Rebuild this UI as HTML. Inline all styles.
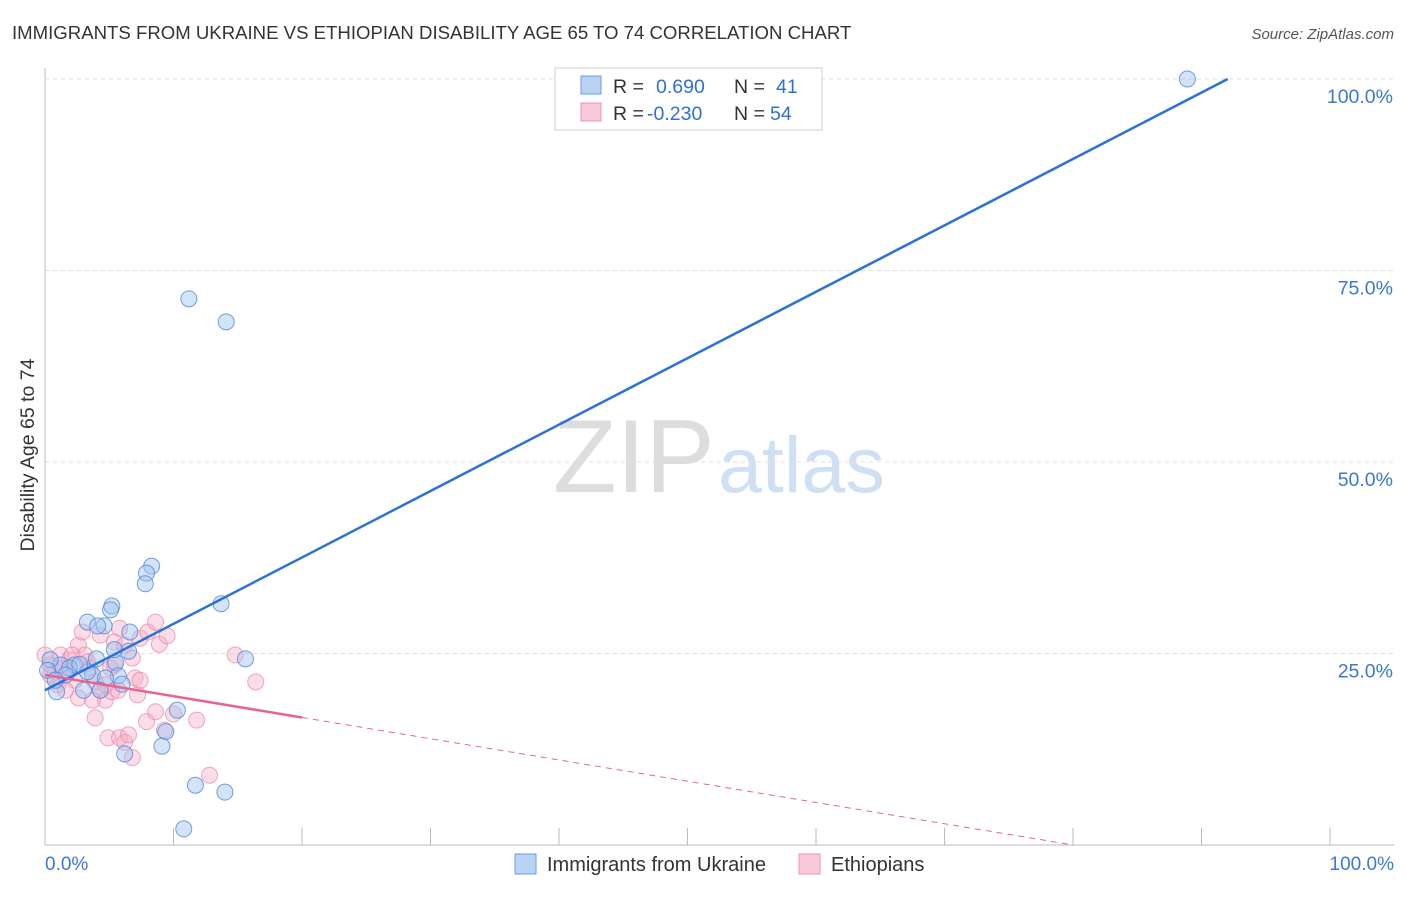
<!DOCTYPE html>
<html><head><meta charset="utf-8"><style>
body{margin:0;background:#fff;font-family:"Liberation Sans",sans-serif;}
svg text{font-family:"Liberation Sans",sans-serif;}
</style></head><body>
<svg id="chart" width="1406" height="892">
<text x="12" y="39" font-size="18.6" fill="#333">IMMIGRANTS FROM UKRAINE VS ETHIOPIAN DISABILITY AGE 65 TO 74 CORRELATION CHART</text>
<text x="1394" y="39" font-size="15" fill="#555" font-style="italic" text-anchor="end">Source: ZipAtlas.com</text>
<text transform="translate(34,455) rotate(-90)" font-size="19.5" fill="#333" text-anchor="middle">Disability Age 65 to 74</text>
<text x="553" y="492" font-size="104" fill="#ddd" font-family="Liberation Serif">ZIP</text>
<text x="718" y="492" font-size="79" fill="#cfe0f4">atlas</text>
<g id="grid"></g>
<g id="marks"></g>
<g>
<rect x="555" y="68" width="267" height="62" fill="#fff" stroke="#ccc"/>
<rect x="581" y="76" width="20" height="18" fill="#b9d3f4" stroke="#6b9be0"/>
<rect x="581" y="103" width="20" height="18" fill="#f9c9d8" stroke="#ee93b0"/>
<text x="613" y="93" font-size="19.5" fill="#333">R = </text><text x="656" y="93" font-size="19.5" fill="#2f6fd6">0.690</text>
<text x="734" y="93" font-size="19.5" fill="#333">N = </text><text x="776" y="93" font-size="19.5" fill="#2f6fd6">41</text>
<text x="613" y="120" font-size="19.5" fill="#333">R = </text><text x="647" y="120" font-size="19.5" fill="#2f6fd6">-0.230</text>
<text x="734" y="120" font-size="19.5" fill="#333">N = </text><text x="770" y="120" font-size="19.5" fill="#2f6fd6">54</text>
</g>
<g>
<rect x="515" y="854" width="21" height="20" fill="#b9d3f4" stroke="#6b9be0"/>
<text x="547" y="871" font-size="20" fill="#333">Immigrants from Ukraine</text>
<rect x="799" y="854" width="21" height="20" fill="#f9c9d8" stroke="#ee93b0"/>
<text x="831" y="871" font-size="20" fill="#333">Ethiopians</text>
</g>
</svg>
<script>
const blueX=[88.9,11.2,14.1,8.3,7.9,7.8,5.2,5.1,3.3,4.6,4.1,6.6,13.7,15.6,6.5,5.5,4.0,1.2,2.3,0.4,0.2,3.7,5.7,4.7,6.0,3.0,0.9,10.3,9.4,9.1,6.2,11.7,14.0,10.8,1.9,3.3,1.6,4.3,0.8,2.7,5.4];
const blueY=[100,71.3,68.3,36.4,35.5,34.1,31.2,30.7,29.1,28.6,28.6,27.8,31.5,24.3,25.3,23.8,24.3,23.5,23.5,24.2,22.8,22.2,22.1,21.8,21.0,20.2,20.0,17.6,14.8,12.9,11.9,7.8,6.9,2.1,23.1,22.6,22.2,20.2,21.5,23.6,25.5];
const pinkX=[0,0.4,0.8,1.3,1.9,2.6,3.1,3.5,3.9,4.3,4.7,5.1,5.4,5.8,6.2,6.8,7.4,8.0,8.6,8.9,9.5,7.0,7.2,5.2,3.9,2.6,1.0,4.9,5.8,6.2,6.8,7.9,9.3,10.0,11.8,12.8,14.8,16.4,4.3,2.9,1.8,3.7,5.7,4.7,1.2,2.3,3.3,0.4,6.5,7.4,1.6,2.1,5.4,8.6];
const pinkY=[24.8,23.5,22.6,23.1,24.2,26.1,24.8,23.1,21.3,20.2,18.9,23.1,26.5,28.3,26.1,24.4,27.0,27.8,29.1,26.2,27.3,21.8,19.6,20.0,16.6,19.2,20.9,14.0,14.0,13.4,11.4,16.1,15.0,17.1,16.3,9.1,24.8,21.3,27.4,27.8,22.6,18.9,20.2,20.9,24.8,21.5,23.9,22.2,14.4,21.5,20.2,24.8,23.5,17.4];
const yTicks=[25,50,75,100];
const yTickLabels=["25.0%","50.0%","75.0%","100.0%"];
const xTicks=[0,10,20,30,40,50,60,70,80,90,100];
const blueFit=[20.2,0.867];
const pinkFit=[22.2,-0.2775];
const X=v=>45+v*12.85, Y=v=>845-v*7.66;
const NS="http://www.w3.org/2000/svg";
function mk(t,a,p){const e=document.createElementNS(NS,t);for(const k in a)e.setAttribute(k,a[k]);p.appendChild(e);return e;}
const grid=document.getElementById('grid'),marks=document.getElementById('marks');
const ax=mk('line',{x1:45,y1:68,x2:45,y2:845,stroke:'#bbb'},grid);


const bx=mk('line',{x1:45,y1:845,x2:1394,y2:845,stroke:'#bbb'},grid);


yTicks.forEach((t,i)=>{
 const g=mk('line',{x1:45,y1:Y(t),x2:1394,y2:Y(t),stroke:'#ddd','stroke-dasharray':'4,4'},grid);
 
 
 const l=mk('text',{x:1393,y:Y(t)+24,'font-size':19.5,fill:'#3a78d8','text-anchor':'end'},grid);
 l.textContent=yTickLabels[i];
 
 
});
xTicks.forEach(t=>{
 const m=mk('line',{x1:X(t),y1:828,x2:X(t),y2:845,stroke:'#bbb'},grid);
 
 
});
const x0=mk('text',{x:45,y:870,'font-size':19,fill:'#3a78d8'},grid);x0.textContent='0.0%';


const x1=mk('text',{x:1394,y:870,'font-size':19,fill:'#3a78d8','text-anchor':'end'},grid);x1.textContent='100.0%';


pinkX.forEach((v,i)=>{
 const c=mk('circle',{cx:X(v),cy:Y(pinkY[i]),r:8,fill:'rgba(246,170,195,0.4)',stroke:'rgba(236,130,165,0.7)'},marks);
 
 
});
blueX.forEach((v,i)=>{
 const c=mk('circle',{cx:X(v),cy:Y(blueY[i]),r:8,fill:'rgba(160,195,240,0.45)',stroke:'rgba(80,135,220,0.8)'},marks);
 
 
});
const bxEnd=(100-blueFit[0])/blueFit[1];
const bl=mk('line',{x1:X(0),y1:Y(blueFit[0]),x2:X(bxEnd),y2:Y(100),stroke:'#2a72d8','stroke-width':2.5},marks);


const pl=mk('line',{x1:X(0),y1:Y(pinkFit[0]),x2:X(20),y2:Y(pinkFit[0]+pinkFit[1]*20),stroke:'#e8648f','stroke-width':2.5},marks);


const pxEnd=-pinkFit[0]/pinkFit[1];
const pd=mk('line',{x1:X(20),y1:Y(pinkFit[0]+pinkFit[1]*20),x2:X(pxEnd),y2:Y(0),stroke:'#e8648f','stroke-width':1,'stroke-dasharray':'6,5'},marks);


</script>
</body></html>
